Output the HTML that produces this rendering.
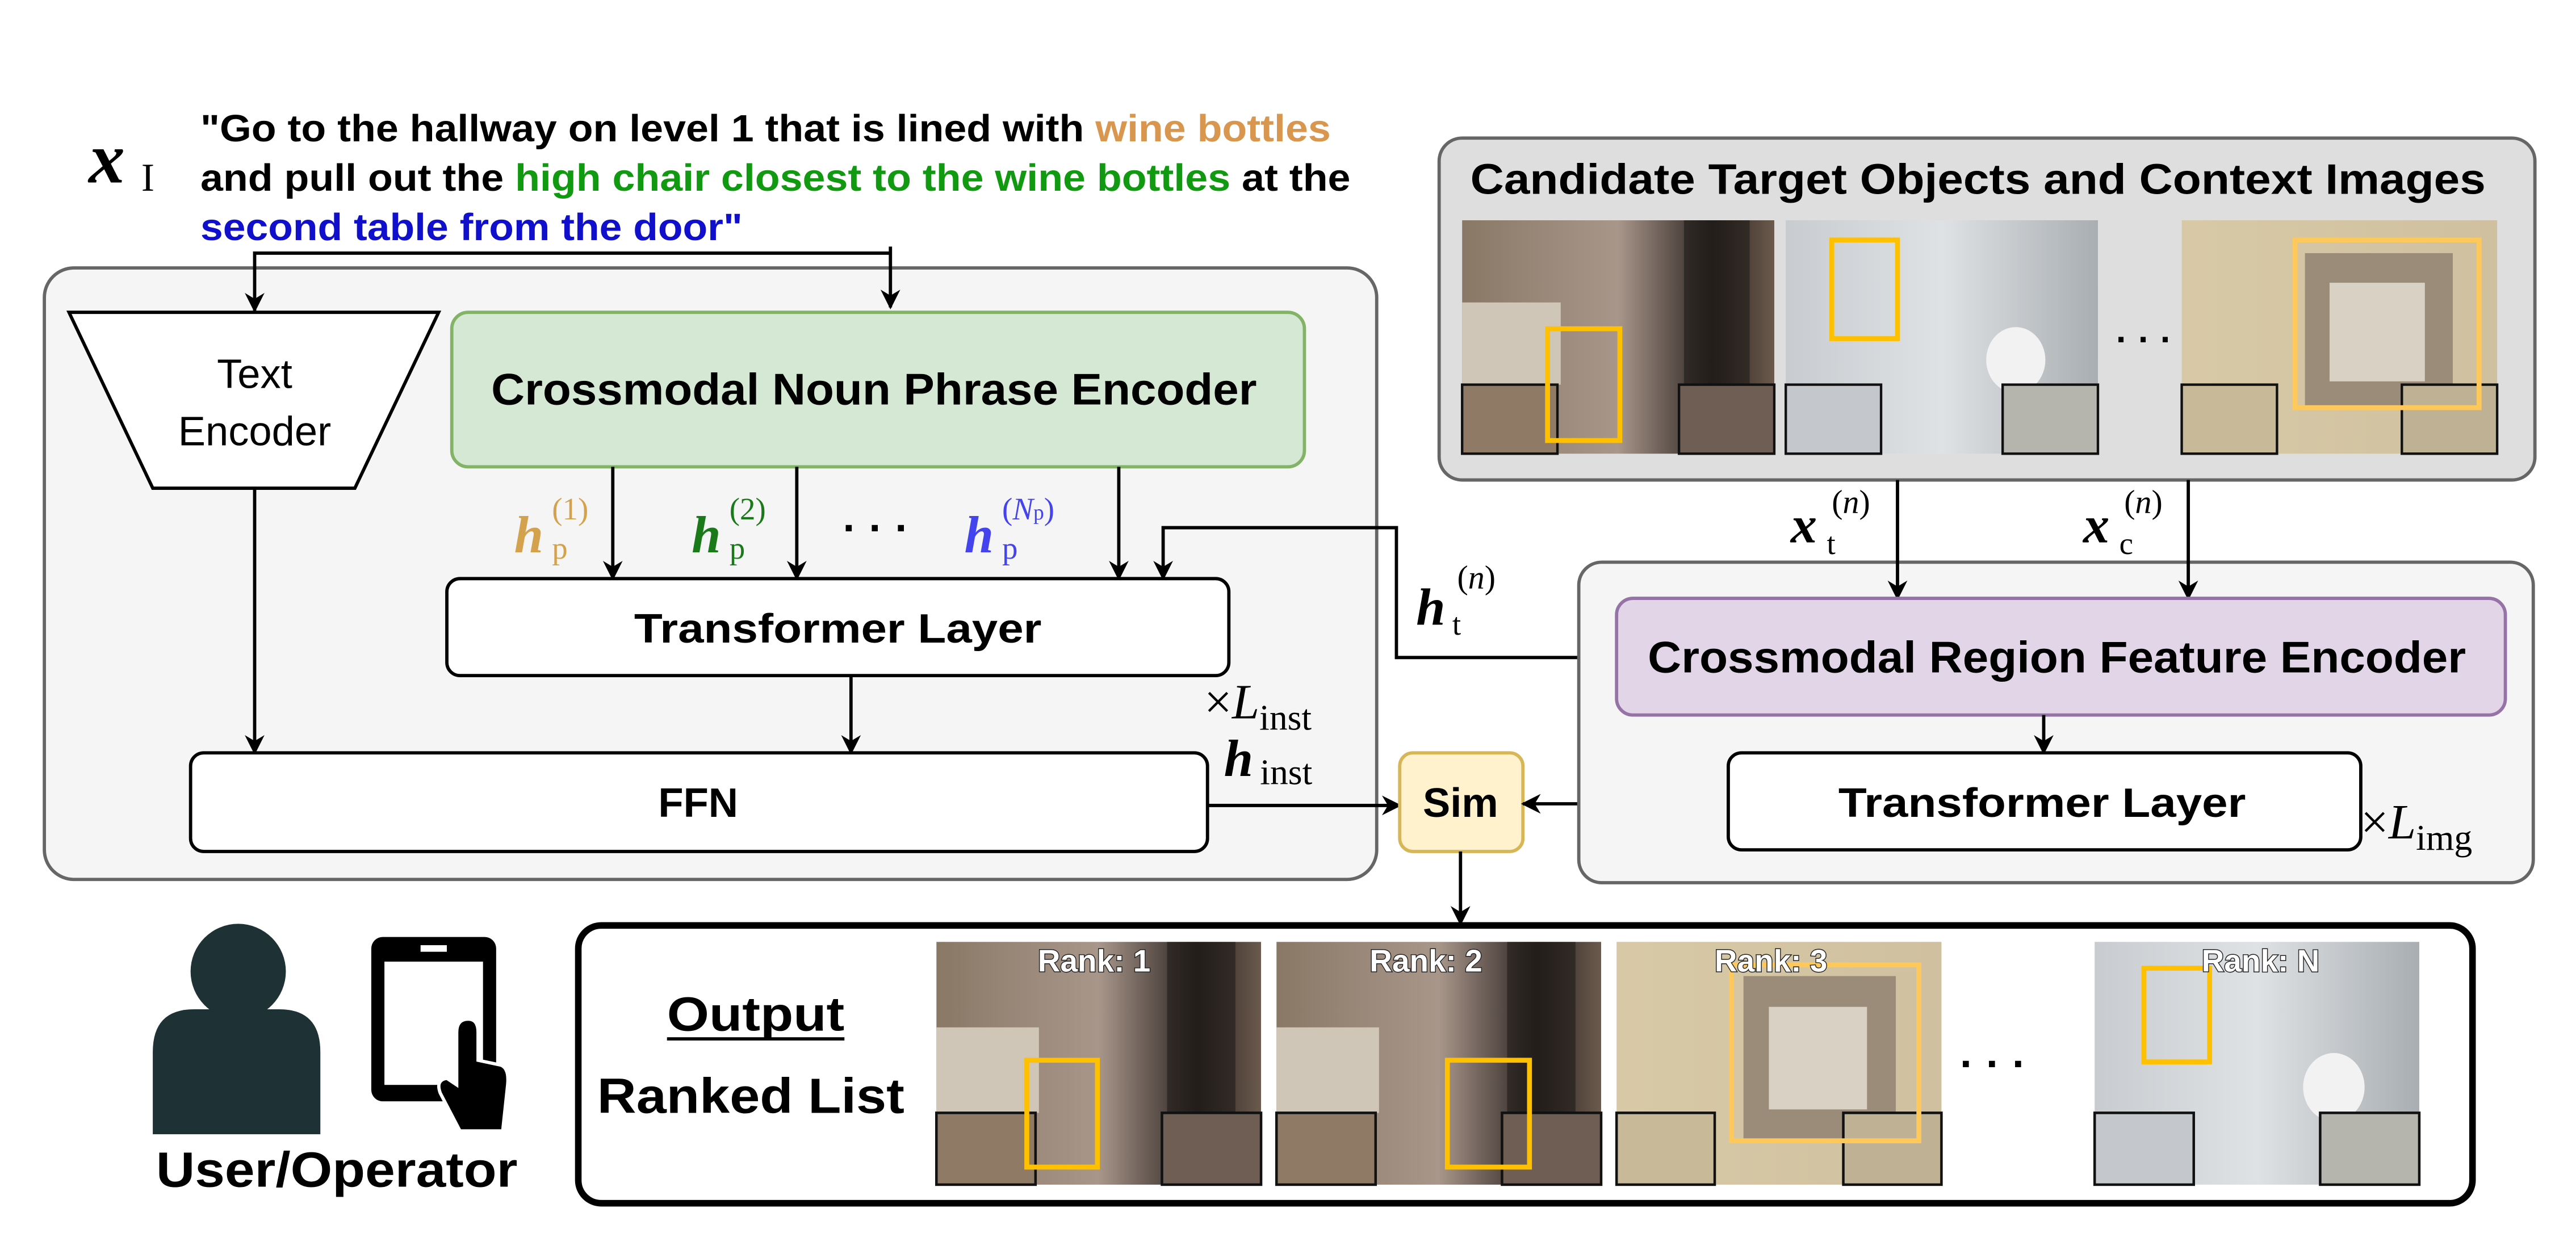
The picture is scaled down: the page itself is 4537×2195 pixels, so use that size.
<!DOCTYPE html>
<html><head><meta charset="utf-8"><style>
html,body{margin:0;padding:0;background:#fff;}
svg{display:block;}
</style></head><body>
<svg width="4537" height="2195" viewBox="0 0 1568 758" preserveAspectRatio="none" xmlns="http://www.w3.org/2000/svg" font-family="Liberation Sans, sans-serif">
<defs>
<marker id="ar" viewBox="0 0 10 10" refX="9" refY="5" markerWidth="14" markerHeight="12" markerUnits="userSpaceOnUse" orient="auto"><path d="M0,0 L10,5 L0,10 L3,5 z" fill="#000"/></marker>
<linearGradient id="wine" x1="0" x2="1"><stop offset="0" stop-color="#8a7866"/><stop offset="0.5" stop-color="#a8968a"/><stop offset="0.8" stop-color="#2a2220"/><stop offset="1" stop-color="#6b5a4d"/></linearGradient>
<linearGradient id="bath" x1="0" x2="1"><stop offset="0" stop-color="#c8ccd0"/><stop offset="0.5" stop-color="#dfe2e4"/><stop offset="1" stop-color="#a9aeb2"/></linearGradient>
<linearGradient id="wall" x1="0" x2="1"><stop offset="0" stop-color="#d8c9a6"/><stop offset="1" stop-color="#cfc0a0"/></linearGradient>
<g id="imgW"><rect width="190" height="142" fill="url(#wine)"/><rect x="0" y="50" width="60" height="50" fill="#cfc6b8"/><rect x="135" y="0" width="40" height="142" fill="#1e1a18" opacity="0.6"/><rect x="0" y="100" width="58" height="42" fill="#8f7a66" stroke="#111" stroke-width="1.5"/><rect x="132" y="100" width="58" height="42" fill="#6f5e54" stroke="#111" stroke-width="1.5"/></g>
<g id="imgB"><rect width="190" height="142" fill="url(#bath)"/><ellipse cx="140" cy="85" rx="18" ry="20" fill="#f2f2f2"/><rect x="0" y="100" width="58" height="42" fill="#c4c8cc" stroke="#111" stroke-width="1.5"/><rect x="132" y="100" width="58" height="42" fill="#b5b5ad" stroke="#111" stroke-width="1.5"/></g>
<g id="imgF"><rect width="192" height="142" fill="url(#wall)"/><rect x="75" y="20" width="90" height="95" fill="#9a8c78"/><rect x="90" y="38" width="58" height="60" fill="#d9d2c4"/><rect x="0" y="100" width="58" height="42" fill="#c8b998" stroke="#111" stroke-width="1.5"/><rect x="134" y="100" width="58" height="42" fill="#bfb294" stroke="#111" stroke-width="1.5"/></g>
</defs>

<text x="54" y="111" font-family="Liberation Serif, serif" font-style="italic" font-weight="bold" font-size="44">x</text><text x="86" y="116" font-family="Liberation Serif, serif" font-size="24">I</text>
<text x="122" y="86" font-weight="bold" font-size="23" textLength="688" lengthAdjust="spacingAndGlyphs">"Go to the hallway on level 1 that is lined with <tspan fill="#d9964e">wine bottles</tspan></text>
<text x="122" y="116" font-weight="bold" font-size="23" textLength="700" lengthAdjust="spacingAndGlyphs">and pull out the <tspan fill="#119911">high chair closest to the wine bottles</tspan> at the</text>
<text x="122" y="146" font-weight="bold" font-size="23" fill="#1010cc" textLength="330" lengthAdjust="spacingAndGlyphs">second table from the door"</text>

<rect x="27" y="163" width="811" height="372" rx="18" fill="#f5f5f5" stroke="#666" stroke-width="2"/>
<path d="M542,150 V187" stroke="#000" stroke-width="2" marker-end="url(#ar)"/>
<path d="M542,154 H155 V189" stroke="#000" stroke-width="2" fill="none" marker-end="url(#ar)"/>
<polygon points="42,190 267,190 216,297 93,297" fill="#fff" stroke="#000" stroke-width="2"/>
<text x="155" y="236" font-size="25" text-anchor="middle">Text</text>
<text x="155" y="271" font-size="25" text-anchor="middle">Encoder</text>
<rect x="275" y="190" width="519" height="94" rx="10" fill="#d5e8d4" stroke="#82b366" stroke-width="2"/>
<text x="532" y="246" font-weight="bold" font-size="27" text-anchor="middle" textLength="466" lengthAdjust="spacingAndGlyphs">Crossmodal Noun Phrase Encoder</text>

<g font-family="Liberation Serif, serif">
<text x="313" y="336" font-size="32" font-style="italic" font-weight="bold" fill="#d4a24c">h</text><text x="336" y="340" font-size="19" fill="#d4a24c">p</text><text x="336" y="316" font-size="19" fill="#d4a24c">(1)</text>
<text x="421" y="336" font-size="32" font-style="italic" font-weight="bold" fill="#1a7a1a">h</text><text x="444" y="340" font-size="19" fill="#1a7a1a">p</text><text x="444" y="316" font-size="19" fill="#1a7a1a">(2)</text>
<text x="587" y="336" font-size="32" font-style="italic" font-weight="bold" fill="#4444ee">h</text><text x="610" y="340" font-size="19" fill="#4444ee">p</text><text x="610" y="316" font-size="19" fill="#4444ee">(<tspan font-style="italic">N</tspan><tspan font-size="13">p</tspan>)</text>
</g>
<text x="513" y="330" font-size="26" font-weight="bold">· · ·</text>
<path d="M373,284 V352" stroke="#000" stroke-width="2" marker-end="url(#ar)"/>
<path d="M485,284 V352" stroke="#000" stroke-width="2" marker-end="url(#ar)"/>
<path d="M681,284 V352" stroke="#000" stroke-width="2" marker-end="url(#ar)"/>
<path d="M984,400 H850 V321 H708 V352" stroke="#000" stroke-width="2" fill="none" marker-end="url(#ar)"/>
<rect x="272" y="352" width="476" height="59" rx="8" fill="#fff" stroke="#000" stroke-width="2"/>
<text x="510" y="391" font-weight="bold" font-size="25" text-anchor="middle" textLength="248" lengthAdjust="spacingAndGlyphs">Transformer Layer</text>
<text x="733" y="437" font-family="Liberation Serif, serif" font-size="30">×<tspan font-style="italic">L</tspan><tspan font-size="22" dy="7">inst</tspan></text>
<path d="M518,411 V458" stroke="#000" stroke-width="2" marker-end="url(#ar)"/>
<path d="M155,297 V458" stroke="#000" stroke-width="2" marker-end="url(#ar)"/>
<rect x="116" y="458" width="619" height="60" rx="8" fill="#fff" stroke="#000" stroke-width="2"/>
<text x="425" y="497" font-weight="bold" font-size="25" text-anchor="middle">FFN</text>
<text x="745" y="472" font-family="Liberation Serif, serif" font-size="32" font-style="italic" font-weight="bold">h</text><text x="767" y="477" font-family="Liberation Serif, serif" font-size="22">inst</text>
<path d="M735,490 H852" stroke="#000" stroke-width="2" marker-end="url(#ar)"/>
<rect x="852" y="458" width="75" height="60" rx="8" fill="#fff2cc" stroke="#d6b656" stroke-width="2"/>
<text x="889" y="497" font-weight="bold" font-size="25" text-anchor="middle">Sim</text>
<path d="M1052,489 H927" stroke="#000" stroke-width="2" marker-end="url(#ar)"/>
<text x="964" y="472" font-family="Liberation Serif, serif" font-size="32" font-style="italic" font-weight="bold">h</text><text x="986" y="477" font-family="Liberation Serif, serif" font-size="22">targ</text>
<text x="862" y="380" font-family="Liberation Serif, serif" font-size="32" font-style="italic" font-weight="bold">h</text><text x="884" y="386" font-family="Liberation Serif, serif" font-size="19">t</text><text x="887" y="358" font-family="Liberation Serif, serif" font-size="20">(<tspan font-style="italic">n</tspan>)</text>

<rect x="876" y="84" width="667" height="208" rx="14" fill="#dedede" stroke="#666" stroke-width="2"/>
<text x="1204" y="118" font-weight="bold" font-size="26" text-anchor="middle" textLength="618" lengthAdjust="spacingAndGlyphs">Candidate Target Objects and Context Images</text>
<use href="#imgW" x="890" y="134"/>
<rect x="942" y="200" width="44" height="68" fill="none" stroke="#ffc000" stroke-width="3"/>
<use href="#imgB" x="1087" y="134"/>
<rect x="1115" y="146" width="40" height="60" fill="none" stroke="#ffc000" stroke-width="3"/>
<text x="1288" y="214" font-size="22" font-weight="bold">· · ·</text>
<use href="#imgF" x="1328" y="134"/>
<rect x="1397" y="146" width="112" height="102" fill="none" stroke="#ffc85a" stroke-width="3"/>
<g font-family="Liberation Serif, serif">
<text x="1090" y="330" font-size="32" font-style="italic" font-weight="bold">x</text><text x="1112" y="337" font-size="19">t</text><text x="1115" y="312" font-size="20">(<tspan font-style="italic">n</tspan>)</text>
<text x="1268" y="330" font-size="32" font-style="italic" font-weight="bold">x</text><text x="1290" y="337" font-size="19">c</text><text x="1293" y="312" font-size="20">(<tspan font-style="italic">n</tspan>)</text>
</g>

<rect x="961" y="342" width="581" height="195" rx="14" fill="#f5f5f5" stroke="#666" stroke-width="2"/>
<path d="M1155,292 V364" stroke="#000" stroke-width="2" marker-end="url(#ar)"/>
<path d="M1332,292 V364" stroke="#000" stroke-width="2" marker-end="url(#ar)"/>
<rect x="984" y="364" width="541" height="71" rx="10" fill="#e1d5e7" stroke="#9673a6" stroke-width="2"/>
<text x="1252" y="409" font-weight="bold" font-size="27" text-anchor="middle" textLength="498" lengthAdjust="spacingAndGlyphs">Crossmodal Region Feature Encoder</text>
<path d="M1244,435 V458" stroke="#000" stroke-width="2" marker-end="url(#ar)"/>
<rect x="1052" y="458" width="385" height="59" rx="8" fill="#fff" stroke="#000" stroke-width="2"/>
<text x="1243" y="497" font-weight="bold" font-size="25" text-anchor="middle" textLength="248" lengthAdjust="spacingAndGlyphs">Transformer Layer</text>
<text x="1437" y="510" font-family="Liberation Serif, serif" font-size="30">×<tspan font-style="italic">L</tspan><tspan font-size="22" dy="7">img</tspan></text>

<path d="M889,518 V562" stroke="#000" stroke-width="2" marker-end="url(#ar)"/>
<rect x="352" y="563" width="1153" height="169" rx="14" fill="#fff" stroke="#000" stroke-width="4"/>
<text x="460" y="627" font-weight="bold" font-size="29" text-anchor="middle" textLength="108" lengthAdjust="spacingAndGlyphs">Output</text>
<line x1="406" y1="632" x2="514" y2="632" stroke="#000" stroke-width="2"/>
<text x="457" y="677" font-weight="bold" font-size="30" text-anchor="middle" textLength="187" lengthAdjust="spacingAndGlyphs">Ranked List</text>
<g transform="translate(570,573) scale(1.04,1.04)"><use href="#imgW"/></g>
<rect x="625" y="645" width="43" height="65" fill="none" stroke="#ffc000" stroke-width="3"/>
<g transform="translate(777,573) scale(1.04,1.04)"><use href="#imgW"/></g>
<rect x="881" y="645" width="50" height="65" fill="none" stroke="#ffc000" stroke-width="3"/>
<g transform="translate(984,573) scale(1.03,1.04)"><use href="#imgF"/></g>
<rect x="1054" y="587" width="114" height="107" fill="none" stroke="#ffc85a" stroke-width="3"/>
<text x="1193" y="656" font-size="26" font-weight="bold">· · ·</text>
<g transform="translate(1275,573) scale(1.04,1.04)"><use href="#imgB"/></g>
<rect x="1305" y="589" width="40" height="57" fill="none" stroke="#ffc000" stroke-width="3"/>
<g font-weight="bold" font-size="19" fill="#fff" text-anchor="middle" stroke="#222" stroke-width="1" paint-order="stroke">
<text x="666" y="591">Rank: 1</text><text x="868" y="591">Rank: 2</text><text x="1078" y="591">Rank: 3</text><text x="1376" y="591">Rank: N</text>
</g>

<circle cx="145" cy="591" r="29" fill="#1e3236"/>
<path d="M93,690 V640 Q93,614 118,614 H170 Q195,614 195,640 V690 Z" fill="#1e3236"/>
<rect x="226" y="570" width="76" height="100" rx="7" fill="#000"/>
<rect x="234" y="585" width="60" height="75" fill="#fff"/>
<rect x="256" y="575" width="16" height="4" fill="#fff"/>
<path d="M278,628 Q278,620 285,620 Q291,620 291,628 V645 L305,648 Q310,650 309,660 L306,688 H280 L268,665 Q265,657 272,656 L278,660 Z" fill="#000" stroke="#fff" stroke-width="2"/>
<text x="205" y="722" font-weight="bold" font-size="30" text-anchor="middle" textLength="220" lengthAdjust="spacingAndGlyphs">User/Operator</text>
</svg>
</body></html>
